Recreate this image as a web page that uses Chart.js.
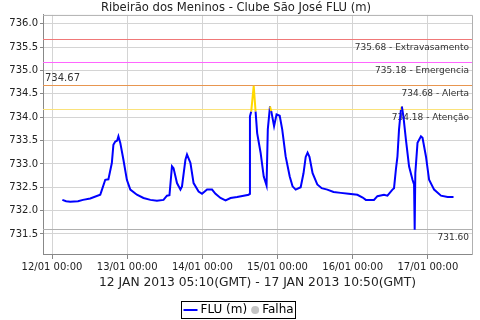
<!DOCTYPE html>
<html>
<head>
<meta charset="utf-8">
<script src="https://cdn.jsdelivr.net/npm/chart.js@4"></script>
<style>
  html, body { margin: 0; padding: 0; background: #fff; }
  canvas { display: block; }
</style>
</head>
<body>
<canvas id="chartFlu" width="480" height="320"></canvas>
<script>
// ---- data (hours since 12/01 00:00 GMT) ----------------------------------
const timeHours = [
  3.3, 4.5, 5.8, 8.3, 9.9, 12.2, 15.4, 15.9, 17.0, 18.0, 19.1, 19.6, 20.2, 20.8, 21.2,
  21.8, 22.8, 23.9, 25.0, 27.1, 29.2, 31.4, 33.5, 35.6, 36.7, 37.5, 38.3, 38.8, 39.9,
  41.0, 41.5, 42.6, 43.1, 44.2, 45.2, 46.8, 47.9, 49.5, 51.1, 52.2, 53.8, 55.4, 57.0,
  59.1, 61.2, 62.8, 63.1, 63.2, 63.6, 64.4, 65.0, 65.5, 66.6, 67.6, 68.5, 68.9, 69.6,
  70.0, 70.9, 71.7, 72.7, 73.5, 74.6, 75.9, 76.8, 77.8, 79.4, 80.3, 81.0, 81.6, 82.2,
  83.2, 84.7, 86.1, 87.9, 89.9, 92.2, 94.7, 97.5, 99.2, 100.2, 102.8, 103.9, 106.0,
  107.1, 108.7, 109.2, 109.8, 110.3, 110.8, 111.4, 111.7, 112.2, 113.0, 114.0, 115.1,
  115.6, 115.8, 116.0, 116.7, 117.8, 118.3, 119.4, 120.4, 122.0, 124.2, 126.3, 128.2
];
const fluLevel = [
  732.23, 732.20, 732.19, 732.20, 732.23, 732.26, 732.34, 732.44, 732.66, 732.67, 733.02, 733.41, 733.48, 733.50, 733.59,
  733.45, 733.09, 732.66, 732.45, 732.34, 732.27, 732.23, 732.21, 732.23, 732.32, 732.33, 732.95, 732.91, 732.59,
  732.45, 732.52, 733.09, 733.20, 733.02, 732.59, 732.41, 732.36, 732.45, 732.45, 732.36, 732.27, 732.22, 732.27,
  732.29, 732.32, 732.34, 732.36, 734.02, 734.12, 734.67, 734.12, 733.66, 733.24, 732.73, 732.54, 733.74, 734.23,
  734.13, 733.81, 734.06, 734.03, 733.74, 733.16, 732.73, 732.52, 732.45, 732.50, 732.80, 733.15, 733.24, 733.15,
  732.80, 732.56, 732.48, 732.45, 732.40, 732.38, 732.36, 732.34, 732.28, 732.23, 732.23, 732.31, 732.34,
  732.32, 732.45, 732.48, 732.88, 733.16, 733.74, 734.16, 734.23, 734.02, 733.52, 732.95, 732.66,
  732.56, 731.59, 732.80, 733.45, 733.59, 733.56, 733.16, 732.66, 732.45, 732.32, 732.29, 732.29
];

const dayLabels = ['12/01 00:00', '13/01 00:00', '14/01 00:00', '15/01 00:00', '16/01 00:00', '17/01 00:00'];

const thresholdValues = [735.68, 735.18, 734.68, 734.18, 731.60];
const thresholdLabels = ['735.68 - Extravasamento', '735.18 - Emergencia', '734.68 - Alerta', '734.18 - Atenção', '731.60'];
const thresholdColors = ['#f07878', '#ff66ff', '#e89650', '#fbe27a', '#b0b0b0'];

const FONT = "'DejaVu Sans', sans-serif";
const HIGH_LEVEL = 734.08;

// Threshold lines, max-value note, plot frame and a boxed legend.
const overlayPlugin = {
  id: 'overlay',
  beforeDatasetsDraw(chart) {
    const { ctx, chartArea: a, scales: { y } } = chart;
    ctx.save();
    thresholdValues.forEach((v, i) => {
      const py = Math.round(y.getPixelForValue(v)) + 0.5;
      ctx.strokeStyle = thresholdColors[i];
      ctx.lineWidth = 1;
      ctx.setLineDash([]);
      ctx.beginPath();
      ctx.moveTo(a.left, py);
      ctx.lineTo(a.right, py);
      ctx.stroke();
      ctx.fillStyle = '#333';
      ctx.font = `9px ${FONT}`;
      ctx.textAlign = 'right';
      ctx.textBaseline = 'middle';
      ctx.fillText(thresholdLabels[i], a.right - 3, py + 8.5);
    });
    const maxVal = Math.max(...fluLevel);
    ctx.font = `10px ${FONT}`;
    ctx.textAlign = 'left';
    ctx.textBaseline = 'middle';
    ctx.fillStyle = '#333';
    ctx.fillText(maxVal.toFixed(2), a.left + 2, y.getPixelForValue(maxVal) - 8);
    ctx.restore();
  },
  afterDraw(chart) {
    const { ctx, chartArea: a } = chart;
    ctx.save();
    ctx.strokeStyle = '#b0b0b0';
    ctx.lineWidth = 1;
    ctx.beginPath();
    ctx.moveTo(a.left, a.top + 0.5);
    ctx.lineTo(a.right + 0.5, a.top + 0.5);
    ctx.lineTo(a.right + 0.5, a.bottom);
    ctx.stroke();

    // legend
    ctx.font = `12px ${FONT}`;
    ctx.textBaseline = 'middle';
    ctx.textAlign = 'left';
    const w1 = ctx.measureText('FLU (m)').width;
    const w2 = ctx.measureText('Falha').width;
    const boxW = 2 + 14 + 3 + w1 + 4 + 8 + 3 + w2 + 2;
    const bx = Math.round(238.5 - boxW / 2) + 0.5;
    const by = 301.5, bh = 17, cy = 310;
    ctx.strokeStyle = '#000';
    ctx.strokeRect(bx, by, Math.round(boxW), bh);
    ctx.strokeStyle = '#0000ff';
    ctx.lineWidth = 2;
    ctx.beginPath();
    ctx.moveTo(bx + 2, cy);
    ctx.lineTo(bx + 16, cy);
    ctx.stroke();
    ctx.fillStyle = '#000';
    ctx.fillText('FLU (m)', bx + 19, cy);
    const cx = bx + 19 + w1 + 8;
    ctx.fillStyle = '#c4c4c4';
    ctx.beginPath();
    ctx.arc(cx, cy, 4, 0, Math.PI * 2);
    ctx.fill();
    ctx.fillStyle = '#000';
    ctx.fillText('Falha', cx + 7, cy);
    ctx.restore();
  }
};

new Chart(document.getElementById('chartFlu'), {
  type: 'line',
  data: {
    datasets: [{
      label: 'FLU (m)',
      data: timeHours.map((h, i) => ({ x: h, y: fluLevel[i] })),
      borderColor: '#0000ff',
      borderWidth: 2,
      pointRadius: 0,
      tension: 0,
      segment: {
        borderColor: (c) => (c.p0.parsed.y >= HIGH_LEVEL && c.p1.parsed.y >= HIGH_LEVEL ? '#ffd800' : undefined)
      }
    }]
  },
  options: {
    responsive: false,
    animation: false,
    layout: { padding: { top: 0, right: 8, bottom: 30, left: 0 } },
    plugins: {
      legend: { display: false },
      tooltip: { enabled: false },
      title: {
        display: true,
        text: 'Ribeirão dos Meninos - Clube São José FLU (m)',
        color: '#222',
        font: { family: FONT, size: 11.6, weight: 'normal' },
        padding: { top: 1, bottom: 0 }
      }
    },
    scales: {
      x: {
        type: 'linear',
        min: -2.88,
        max: 134.1,
        afterFit: (s) => { s.height = 35; },
        grid: {
          color: '#d4d4d4',
          borderDash: [2, 2],
          tickLength: 4,
          tickColor: '#888',
          tickBorderDash: []
        },
        border: { color: '#888' },
        ticks: {
          stepSize: 24,
          includeBounds: false,
          maxRotation: 0,
          padding: 2,
          color: '#222',
          font: { family: FONT, size: 10 },
          callback: (v) => dayLabels[Math.round(v / 24)] ?? ''
        },
        title: {
          display: true,
          text: '12 JAN 2013 05:10(GMT) - 17 JAN 2013 10:50(GMT)',
          color: '#222',
          font: { family: FONT, size: 12.3 },
          padding: { top: 0, bottom: 0 }
        }
      },
      y: {
        min: 731.05,
        max: 736.19,
        afterFit: (s) => { s.width = 43; },
        grid: {
          color: '#d4d4d4',
          borderDash: [2, 2],
          tickLength: 3,
          tickColor: '#888',
          tickBorderDash: []
        },
        border: { color: '#888' },
        ticks: {
          stepSize: 0.5,
          includeBounds: false,
          padding: 2,
          color: '#222',
          font: { family: FONT, size: 10 },
          callback: (v) => v.toFixed(1)
        }
      }
    }
  },
  plugins: [overlayPlugin]
});
</script>
</body>
</html>
